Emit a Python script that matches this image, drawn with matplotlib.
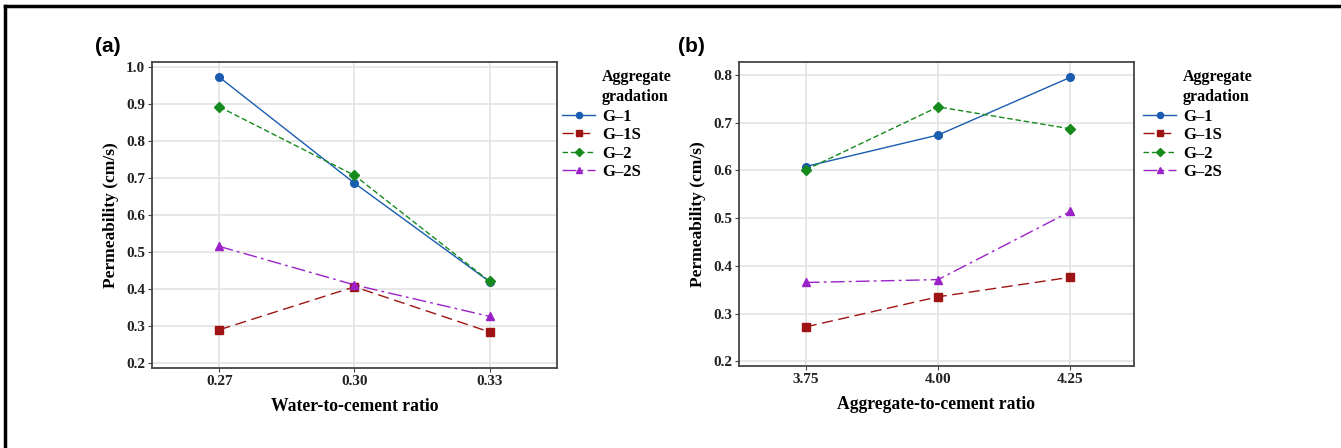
import numpy as np
import matplotlib.pyplot as plt
from matplotlib.lines import Line2D

# data
wc = [0.27, 0.30, 0.33]
ac = [3.75, 4.00, 4.25]
names = ['G\u20131', 'G\u20131S', 'G\u20132', 'G\u20132S']

a_g1 = [0.972, 0.686, 0.420]
a_g1s = [0.290, 0.406, 0.284]
a_g2 = [0.892, 0.707, 0.421]
a_g2s = [0.515, 0.411, 0.326]

b_g1 = [0.608, 0.674, 0.795]
b_g1s = [0.272, 0.335, 0.376]
b_g2 = [0.601, 0.733, 0.687]
b_g2s = [0.365, 0.371, 0.514]

colors = ['#1a5cb0', '#9e1414', '#168a1c', '#9a22c8']
markers = ['o', 's', 'D', '^']
msizes = [5.5, 5.5, 5.5, 6]
styles = ['-', (0, (8, 4)), (0, (4, 2)), (0, (10, 3, 2, 3))]

serif = 'Liberation Serif'

fig = plt.figure(figsize=(13.41, 4.48), dpi=100)
W, H = 1341, 448

def add_ax(l, t, r, b):
    return fig.add_axes([l / W, 1 - b / H, (r - l) / W, (b - t) / H])

ax1 = add_ax(152, 62, 557, 368)
ax2 = add_ax(739, 62, 1134, 366)

def draw(ax, x, series, xlim, ylim, yt, xl, xfmt, leg_x):
    for i, y in enumerate(series):
        ax.plot(x, y, color=colors[i], marker=markers[i], ls=styles[i], lw=1.0,
                ms=msizes[i], label=names[i])
    ax.set_xlim(*xlim)
    ax.set_ylim(*ylim)
    ax.set_xticks(x)
    ax.set_xticklabels([xfmt.format(v) for v in x])
    ax.set_yticks(yt)
    ax.set_yticklabels(['{:.1f}'.format(v) for v in yt])
    ax.grid(True, color='#e3e3e3', lw=1.2)
    ax.set_axisbelow(True)
    for s in ax.spines.values():
        s.set_color('#444444')
        s.set_linewidth(1.3)
    ax.tick_params(length=3, width=0.8, color='#444444', pad=2)
    for lab in ax.get_xticklabels() + ax.get_yticklabels():
        lab.set_fontfamily(serif)
        lab.set_fontweight('bold')
        lab.set_fontsize(11)
        lab.set_color('#222222')
    ax.set_xlabel(xl, family=serif, weight='bold', fontsize=12.7, labelpad=7)
    ax.set_ylabel('Permeability (cm/s)', family=serif, weight='bold', fontsize=12.5, labelpad=5)
    ax.legend(loc='upper left',
              bbox_to_anchor=(leg_x / W, 1 - 109 / H), bbox_transform=fig.transFigure,
              frameon=False, prop={'family': serif, 'weight': 'bold', 'size': 12},
              handlelength=2.0, handletextpad=0.4, labelspacing=0.14, markerscale=0.8,
              borderaxespad=0, borderpad=0)
    fig.text((leg_x + 40) / W, 1 - 69 / H, 'Aggregate\ngradation', family=serif,
             weight='bold', fontsize=11.5, va='top', ha='left', linespacing=1.3)

draw(ax1, wc, [a_g1, a_g1s, a_g2, a_g2s], (0.255, 0.345), (0.1865, 1.0135),
     [0.2, 0.3, 0.4, 0.5, 0.6, 0.7, 0.8, 0.9, 1.0], 'Water-to-cement ratio', '{:.2f}', 562)
draw(ax2, ac, [b_g1, b_g1s, b_g2, b_g2s], (3.624, 4.37), (0.19, 0.827),
     [0.2, 0.3, 0.4, 0.5, 0.6, 0.7, 0.8], 'Aggregate-to-cement ratio', '{:.2f}', 1143)

fig.text(95 / W, 1 - 47 / H, '(a)', family='Liberation Sans', weight='bold', fontsize=15, va='center')
fig.text(678 / W, 1 - 47 / H, '(b)', family='Liberation Sans', weight='bold', fontsize=15, va='center')

# outer frame (top and left only)
fig.add_artist(Line2D([4.5 / W, 1], [1 - 6.5 / H, 1 - 6.5 / H], color='black', lw=2.5, transform=fig.transFigure))
fig.add_artist(Line2D([4.5 / W, 4.5 / W], [0, 1 - 6.5 / H], color='black', lw=2.5, transform=fig.transFigure))

fig.savefig('out.png', dpi=100)
